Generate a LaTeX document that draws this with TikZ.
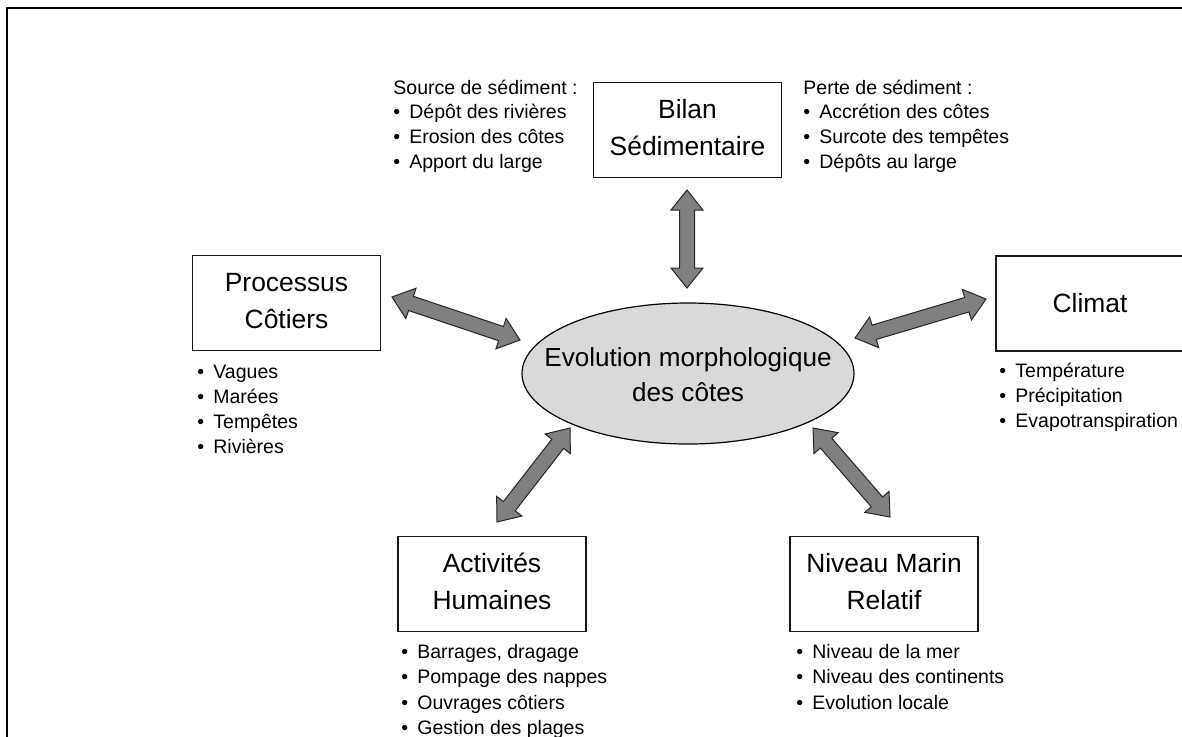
\documentclass[tikz,border=0pt]{standalone}
\usepackage{fontspec}
\setmainfont{Liberation Sans}
\usetikzlibrary{calc,shapes.geometric}
\tikzset{
 box/.style={draw=black!90, line width=0.7pt, minimum width=94pt, minimum height=47.5pt, align=center, inner sep=0pt, font=\fontsize{13.2pt}{18.5pt}\selectfont},
 core/.style={ellipse, draw=black, line width=0.6pt, fill=black!15, minimum width=166pt, minimum height=70.5pt, inner sep=0pt, font=\fontsize{13.05pt}{17.5pt}\selectfont},
 item/.style={anchor=base west, inner sep=0pt, font=\fontsize{9.75pt}{12pt}\selectfont},
 blockarrow/.style={fill=black!50, draw=black!85, line width=0.5pt, line join=miter},
 frameline/.style={line width=1.1pt, draw=black},
}
\newcommand\bul{\makebox[8pt][l]{•}}
\newcommand\zerotext[1]{\makebox[0pt]{\smash{\begin{tabular}{@{}c@{}}#1\end{tabular}}}}
\newcommand\dblarrow[2]{%
 \coordinate (#1-h) at ($(#1)!10pt!(#2)$);
 \coordinate (#2-h) at ($(#2)!10pt!(#1)$);
 \draw[blockarrow] (#1)
  -- ($(#1-h)!8pt!90:(#2)$) -- ($(#1-h)!3.75pt!90:(#2)$)
  -- ($(#2-h)!3.75pt!-90:(#1)$) -- ($(#2-h)!8pt!-90:(#1)$)
  -- (#2)
  -- ($(#2-h)!8pt!90:(#1)$) -- ($(#2-h)!3.75pt!90:(#1)$)
  -- ($(#1-h)!3.75pt!-90:(#2)$) -- ($(#1-h)!8pt!-90:(#2)$)
  -- cycle;}
\begin{document}
\begin{tikzpicture}[x=0.5pt,y=-0.5pt]
\useasboundingbox (0,0) rectangle (1182,736);
\draw[frameline] (7,737) -- (7,8) -- (1183,8);

% boxes
\node[box] (bilan) at (687.5,130) {\raisebox{1pt}{\begin{tabular}{@{}c@{}}Bilan\\Sédimentaire\end{tabular}}};
\node[box] (proc) at (286.5,303) {\raisebox{1pt}{\begin{tabular}{@{}c@{}}Processus\\Côtiers\end{tabular}}};
\node[box] (climat) at (1090,303.5) {Climat};
\node[box] (activ) at (492,584) {\raisebox{1pt}{\begin{tabular}{@{}c@{}}Activités\\Humaines\end{tabular}}};
\node[box] (niveau) at (884,584) {\raisebox{1pt}{\begin{tabular}{@{}c@{}}Niveau Marin\\Relatif\end{tabular}}};
\node[core] (evol) at (688,373.5) {\raisebox{-9.5pt}{\zerotext{Evolution morphologique\\des côtes}}};

% lists
\node[item] (src0) at (393,94) {Source de sédiment :};
\foreach \t [count=\i] in {Dépôt des rivières, Erosion des côtes, Apport du large}
  \node[item] (src\i) at (393,94+24.7*\i) {\bul\t};
\node[item] (prt0) at (803,94) {Perte de sédiment :};
\foreach \t [count=\i] in {Accrétion des côtes, Surcote des tempêtes, Dépôts au large}
  \node[item] (prt\i) at (803,94+24.7*\i) {\bul\t};
\foreach \t [count=\i from 0] in {Vagues, Marées, Tempêtes, Rivières}
  \node[item] (pl\i) at (197,378+25*\i) {\bul\t};
\foreach \t [count=\i from 0] in {Température, Précipitation, Evapotranspiration}
  \node[item] (cl\i) at (999,377+25*\i) {\bul\t};
\foreach \t [count=\i from 0] in {{Barrages, dragage}, Pompage des nappes, Ouvrages côtiers, Gestion des plages}
  \node[item] (al\i) at (401,658+25.5*\i) {\bul\t};
\foreach \t [count=\i from 0] in {Niveau de la mer, Niveau des continents, Evolution locale}
  \node[item] (nl\i) at (796,658+25.5*\i) {\bul\t};

% arrow tips
\coordinate (bA) at (687,190); \coordinate (bB) at (687,288);
\coordinate (pA) at (392,297); \coordinate (pB) at (520,340);
\coordinate (cA) at (986,299); \coordinate (cB) at (855,338);
\coordinate (aA) at (497,522); \coordinate (aB) at (570,428);
\coordinate (nA) at (890,517); \coordinate (nB) at (813,428);
\dblarrow{bA}{bB}
\dblarrow{pA}{pB}
\dblarrow{cA}{cB}
\dblarrow{aA}{aB}
\dblarrow{nA}{nB}
\end{tikzpicture}
\end{document}
